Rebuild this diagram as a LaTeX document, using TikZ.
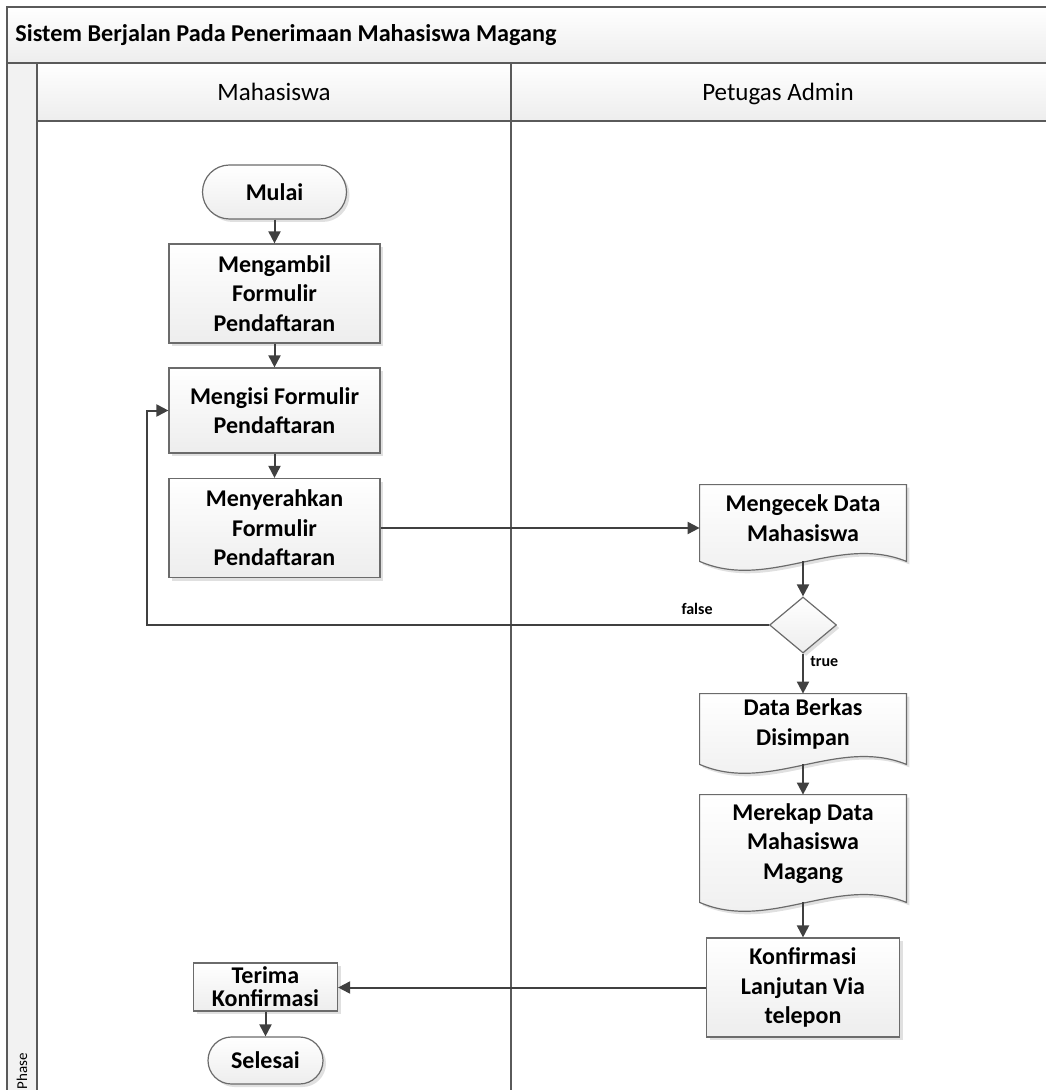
\documentclass[tikz,border=0pt]{standalone}
\usepackage{fontspec}
\setmainfont{Carlito}
\usetikzlibrary{arrows.meta,calc,shapes.geometric,shadows,backgrounds}
\definecolor{laneline}{HTML}{5A5A5A}
\definecolor{connline}{HTML}{404040}
\definecolor{boxline}{HTML}{6B6B6B}
\tikzset{
  boxfill/.style={top color=white,bottom color=black!7},
  boxshadow/.style={drop shadow={shadow xshift=1.5pt,shadow yshift=-1.5pt,fill=black,opacity=0.12}},
  proc/.style={draw=boxline,line width=0.6pt,boxfill,boxshadow,align=center,
    font=\fontsize{12}{14.8}\selectfont\bfseries,inner sep=0pt},
  term/.style={proc,rounded corners=#1},
  docnode/.style={align=center,font=\fontsize{12}{14.8}\selectfont\bfseries,inner sep=0pt},
  conn/.style={draw=connline,line width=1pt,-{Triangle[length=6pt,width=6pt]}},
  lbl/.style={font=\fontsize{8}{9.6}\selectfont\bfseries,inner sep=0pt},
  lanehead/.style={font=\fontsize{12.5}{15}\selectfont,anchor=base,inner sep=0pt},
  lanel/.style={draw=laneline,line width=1pt}
}
\newcommand{\docshape}[1]{%
  \coordinate (#1-se) at ([yshift=-5pt]#1.south east);
  \coordinate (#1-sw) at ([yshift=-5pt]#1.south west);
  \coordinate (#1-s) at ([yshift=-5pt]#1.south);
  \coordinate (#1-c1) at ($(#1-se)!0.3333!(#1-sw)+(0,14pt)$);
  \coordinate (#1-c2) at ($(#1-se)!0.6667!(#1-sw)+(0,-15pt)$);
  \begin{pgfonlayer}{background}
    \fill[black!12,transform canvas={xshift=1.5pt,yshift=-1.5pt}]
      (#1.north west) -- (#1.north east) -- (#1-se) .. controls (#1-c1) and (#1-c2) .. (#1-sw) -- cycle;
    \shade[boxfill]
      (#1.north west) -- (#1.north east) -- (#1-se) .. controls (#1-c1) and (#1-c2) .. (#1-sw) -- cycle;
    \draw[draw=boxline,line width=0.6pt]
      (#1.north west) -- (#1.north east) -- (#1-se) .. controls (#1-c1) and (#1-c2) .. (#1-sw) -- cycle;
  \end{pgfonlayer}}
\begin{document}
\begin{tikzpicture}[x=0.5pt,y=-0.5pt]
\useasboundingbox (0,0) rectangle (1045,1090);
% pool and lanes
\shade[top color=white,bottom color=black!7] (7,7) rectangle (1047,63);
\shade[top color=white,bottom color=black!7] (37,63) rectangle (1047,121);
\fill[black!5] (7,63) rectangle (37,1092);
\draw[lanel] (1047,7) -- (7,7) -- (7,1092);
\draw[lanel] (7,63) -- (1047,63);
\draw[lanel] (37,63) -- (37,1092);
\draw[lanel] (37,121) -- (1047,121);
\draw[lanel] (511,63) -- (511,1092);
\node[anchor=west,font=\fontsize{12.1}{14.5}\selectfont\bfseries,inner sep=0pt] (title) at (15,35) {Sistem Berjalan Pada Penerimaan Mahasiswa Magang};
\node[lanehead] (hmhs) at (274,101) {Mahasiswa};
\node[lanehead] (hadm) at (778,101) {Petugas Admin};
\node[font=\fontsize{7.5}{9}\selectfont,rotate=90,inner sep=0pt] (phase) at (22,1071) {Phase};
% Mahasiswa lane
\node[term=13.5pt,minimum width=72pt,minimum height=27pt] (mulai) at (274.5,192) {Mulai};
\node[proc,minimum width=105.5pt,minimum height=49.5pt] (ambil) at (274.5,293.5) {Mengambil\\Formulir\\Pendaftaran};
\node[proc,minimum width=105.5pt,minimum height=42.5pt] (isi) at (274.5,410.5) {Mengisi Formulir\\Pendaftaran};
\node[proc,minimum width=105.5pt,minimum height=49.5pt] (serah) at (274.5,528) {Menyerahkan\\Formulir\\Pendaftaran};
\node[proc,minimum width=72pt,minimum height=24pt,font=\fontsize{12}{11.6}\selectfont\bfseries] (terima) at (265.5,987) {Terima\\Konfirmasi};
\node[term=11.75pt,minimum width=57.5pt,minimum height=23.5pt] (selesai) at (265.5,1060.5) {Selesai};
% Petugas Admin lane
\node[docnode,minimum width=103pt,minimum height=33pt] (cek) at (803,518) {Mengecek Data\\Mahasiswa};
\docshape{cek}
\node[draw=boxline,line width=0.6pt,shape=diamond,boxfill,boxshadow,minimum width=33.5pt,minimum height=28pt,inner sep=0pt] (dec) at (803,625) {};
\node[docnode,minimum width=103pt,minimum height=30pt] (simpan) at (803,724) {Data Berkas\\Disimpan};
\docshape{simpan}
\node[docnode,minimum width=103pt,minimum height=48.5pt] (rekap) at (803,843.5) {Merekap Data\\Mahasiswa\\Magang};
\docshape{rekap}
\node[proc,minimum width=96.5pt,minimum height=49.5pt] (konf) at (803,987.5) {Konfirmasi\\Lanjutan Via\\telepon};
% connectors
\coordinate (fb) at (147,625);
\draw[conn] (mulai.south) -- (ambil.north);
\draw[conn] (ambil.south) -- (isi.north);
\draw[conn] (isi.south) -- (serah.north);
\draw[conn] (serah.east) -- (serah.east -| cek.west);
\draw[conn] (cek-s) -- (dec.north);
\draw[conn] (dec.south) -- (simpan.north);
\draw[conn] (simpan-s) -- (rekap.north);
\draw[conn] (rekap-s) -- (konf.north);
\draw[conn] (konf.west) -- (konf.west -| terima.east);
\draw[conn] (terima.south) -- (selesai.north);
\draw[conn] (dec.west) -- (fb) |- (isi.west);
\node[lbl,anchor=east] (lfalse) at (713,609) {false};
\node[lbl,anchor=west] (ltrue) at (810,662) {true};
\end{tikzpicture}
\end{document}
